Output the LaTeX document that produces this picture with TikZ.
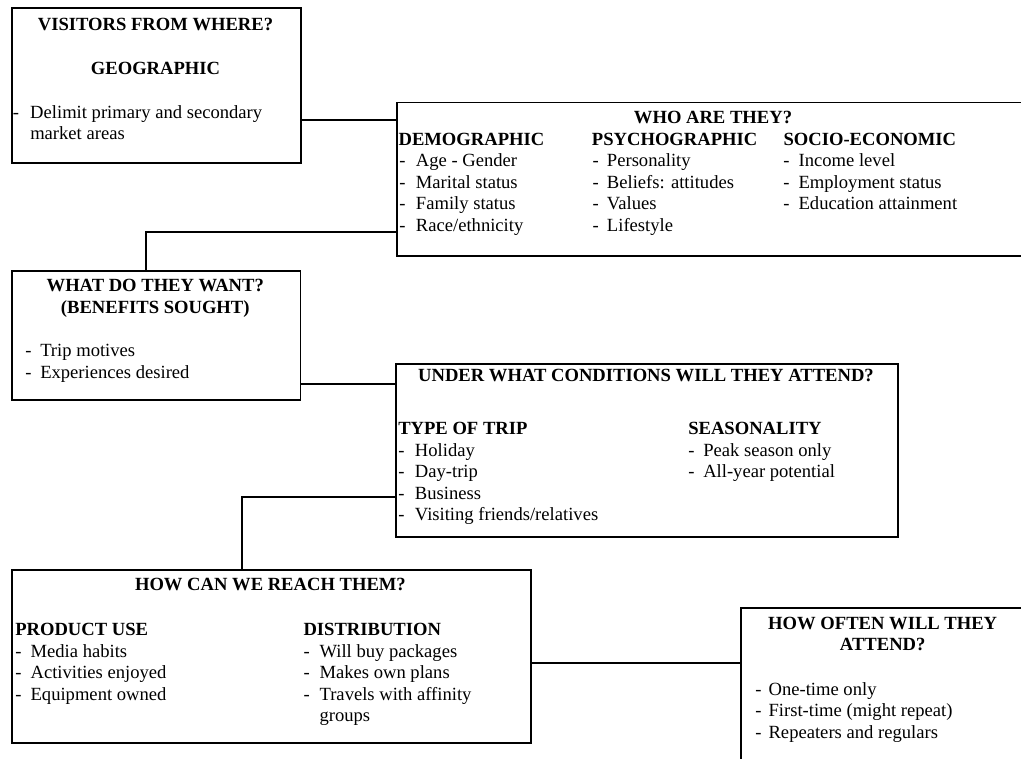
\documentclass[tikz,border=0pt]{standalone}
\usepackage{fontspec}
\setmainfont{Liberation Serif}
% list entry: hyphen in a fixed-width slot, then the text
\newcommand\itm[2]{\makebox[#1pt][l]{-}#2}
\begin{document}
\begin{tikzpicture}[x=0.75pt,y=-0.75pt,
  box/.style={draw, line width=1.4pt, rectangle, inner sep=0pt, anchor=north west},
  link/.style={line width=1.4pt},
  txt/.style={inner sep=0pt, anchor=base west, font=\fontsize{13.95pt}{16pt}\selectfont},
  head/.style={txt, font=\fontsize{13.95pt}{16pt}\selectfont\bfseries},
  ttl/.style={head, anchor=base}]
\useasboundingbox (0,0) rectangle (1021,758);
\clip (0,0) rectangle (1021,758);

% frames
\node[box, minimum width=289*0.75pt, minimum height=155*0.75pt] (geo) at (11,7) {};
\node[box, minimum width=634*0.75pt, minimum height=153.5*0.75pt] (who) at (396,101.5) {};
\node[box, minimum width=288.5*0.75pt, minimum height=129*0.75pt] (want) at (11,270) {};
\node[box, minimum width=502*0.75pt, minimum height=173*0.75pt] (cond) at (395,363.3) {};
\node[box, minimum width=519*0.75pt, minimum height=173*0.75pt] (reach) at (11,569) {};
\node[box, minimum width=285*0.75pt, minimum height=200*0.75pt] (often) at (740,607.3) {};

% connectors
\draw[link] (geo.east |- 0,120) -- (who.west |- 0,120);
\draw[link] (who.west |- 0,232) -| (146,0 |- want.north);
\draw[link] (want.east |- 0,384) -- (cond.west |- 0,384);
\draw[link] (cond.west |- 0,497) -| (242,0 |- reach.north);
\draw[link] (reach.east |- 0,663) -- (often.west |- 0,663);

% visitors from where
\node[ttl] (geo-t) at (155.5,30.7) {VISITORS FROM WHERE?};
\node[ttl] (geo-s) at (155.5,74) {GEOGRAPHIC};
\node[txt] (geo-1) at (12.5,118) {\itm{13.1}{Delimit primary and secondary}};
\node[txt] (geo-2) at (30,139.5) {market areas};

% who are they
\node[ttl] (who-t) at (713,123.3) {WHO ARE THEY?};
\node[head] (dem) at (398.3,145) {DEMOGRAPHIC};
\node[head] (psy) at (591.7,145) {PSYCHOGRAPHIC};
\node[head] (soc) at (783.3,145) {SOCIO-ECONOMIC};
\foreach \t [count=\i] in {Age - Gender, Marital status, Family status, Race/ethnicity}
  \node[txt] (dem-\i) at (399,145+21.6*\i) {\itm{12.5}{\t}};
\foreach \t [count=\i] in {Personality, Beliefs: attitudes, Values, Lifestyle}
  \node[txt] (psy-\i) at (592.3,145+21.6*\i) {\itm{10.8}{\t}};
\foreach \t [count=\i] in {Income level, Employment status, Education attainment}
  \node[txt] (soc-\i) at (783,145+21.6*\i) {\itm{11.5}{\t}};

% what do they want
\node[ttl] (want-t) at (155.25,291.7) {WHAT DO THEY WANT?};
\node[ttl] (want-s) at (155.25,313) {(BENEFITS SOUGHT)};
\node[txt] (want-1) at (25,356.7) {\itm{11.25}{Trip motives}};
\node[txt] (want-2) at (25,378.3) {\itm{11.25}{Experiences desired}};

% under what conditions
\node[ttl] (cond-t) at (646,381.7) {UNDER WHAT CONDITIONS WILL THEY ATTEND?};
\node[head] (trip) at (398,434.5) {TYPE OF TRIP};
\node[head] (seas) at (688,434.5) {SEASONALITY};
\foreach \t [count=\i] in {Holiday, Day-trip, Business, Visiting friends/relatives}
  \node[txt] (trip-\i) at (398,434.5+21.5*\i) {\itm{12.5}{\t}};
\foreach \t [count=\i] in {Peak season only, All-year potential}
  \node[txt] (seas-\i) at (688,434.5+21.5*\i) {\itm{11.25}{\t}};

% how can we reach them
\node[ttl] (reach-t) at (270.4,590) {HOW CAN WE REACH THEM?};
\node[head] (prod) at (15,635.5) {PRODUCT USE};
\node[head] (dist) at (303.3,635.5) {DISTRIBUTION};
\foreach \t [count=\i] in {Media habits, Activities enjoyed, Equipment owned}
  \node[txt] (prod-\i) at (15,635.5+21.5*\i) {\itm{11.5}{\t}};
\foreach \t [count=\i] in {Will buy packages, Makes own plans, Travels with affinity}
  \node[txt] (dist-\i) at (303.3,635.5+21.5*\i) {\itm{12}{\t}};
\node[txt] (dist-4) at (319.3,721.5) {groups};

% how often
\node[ttl] (often-t) at (882.7,629.5) {HOW OFTEN WILL THEY};
\node[ttl] (often-s) at (882.7,650.5) {ATTEND?};
\foreach \t [count=\i] in {One-time only, First-time (might repeat), Repeaters and regulars}
  \node[txt] (often-\i) at (755,673.5+21.5*\i) {\itm{10}{\t}};
\end{tikzpicture}
\end{document}
